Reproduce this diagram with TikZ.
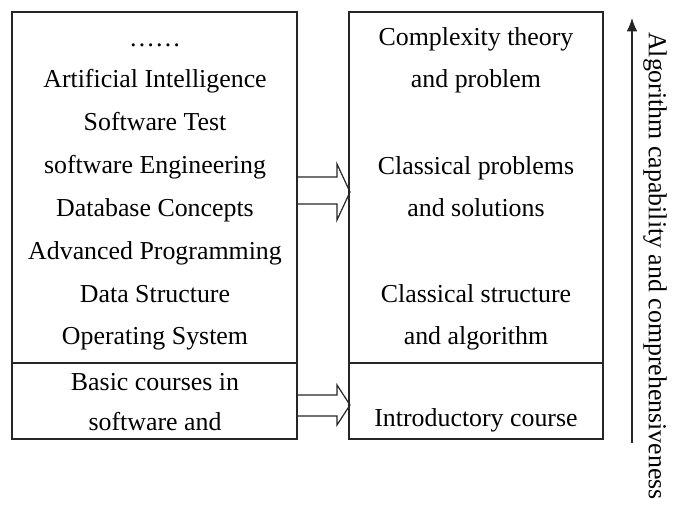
\documentclass[tikz,border=0pt]{standalone}
\usepackage{fontspec}
\setmainfont{Liberation Serif}
\usetikzlibrary{arrows.meta}
\tikzset{
	course/.style={font=\fontsize{19.4}{22}\selectfont, inner sep=0pt, anchor=base},
	frame/.style={draw=black!85, line width=0.9pt},
}
\begin{document}
\begin{tikzpicture}[x=0.75pt, y=-0.75pt]
	\useasboundingbox (0,0) rectangle (689,506);
	
	% boxes
	\draw[frame] (12,12) rectangle (297,439);
	\draw[frame] (12,363)--(297,363);
	\draw[frame] (349,12) rectangle (603,439);
	\draw[frame] (349,363)--(603,363);
	
	% left column
	\node[course] (dots) at (155,47) {\dots\dots};
	\node[course] (ai)   at (155,88) {Artificial Intelligence};
	\node[course] (st)   at (155,131) {Software Test};
	\node[course] (se)   at (155,174) {software Engineering};
	\node[course] (db)   at (155,217) {Database Concepts};
	\node[course] (ap)   at (155,259) {Advanced Programming};
	\node[course] (ds)   at (155,302) {Data Structure};
	\node[course] (os)   at (155,344) {Operating System};
	\node[course] (bc1)  at (155,390) {Basic courses in};
	\node[course] (bc2)  at (155,430) {software and};
	
	% right column
	\node[course] (ct1) at (476,46) {Complexity theory};
	\node[course] (ct2) at (476,88) {and problem};
	\node[course] (cp1) at (476,175) {Classical problems};
	\node[course] (cp2) at (476,217) {and solutions};
	\node[course] (cs1) at (476,302) {Classical structure};
	\node[course] (cs2) at (476,344) {and algorithm};
	\node[course] (ic)  at (476,426) {Introductory course};
	
	% block arrows
	\draw[frame, line join=miter] (297,177)--(337,177)--(337,164)--(350,192)--(337,220)--(337,204)--(297,204);
	\draw[frame, line join=miter] (297,395)--(337,395)--(337,385)--(350,405)--(337,425)--(337,416)--(297,416);
	
	% capability axis
	\coordinate (low) at (632,443);
	\coordinate (high) at (632,18);
	\draw[frame, -{Latex[length=10pt,width=8pt]}] (low)--(high);
	\node[course, rotate=-90, anchor=center] (cap) at (655,266) {Algorithm capability and comprehensiveness};
\end{tikzpicture}
\end{document}
